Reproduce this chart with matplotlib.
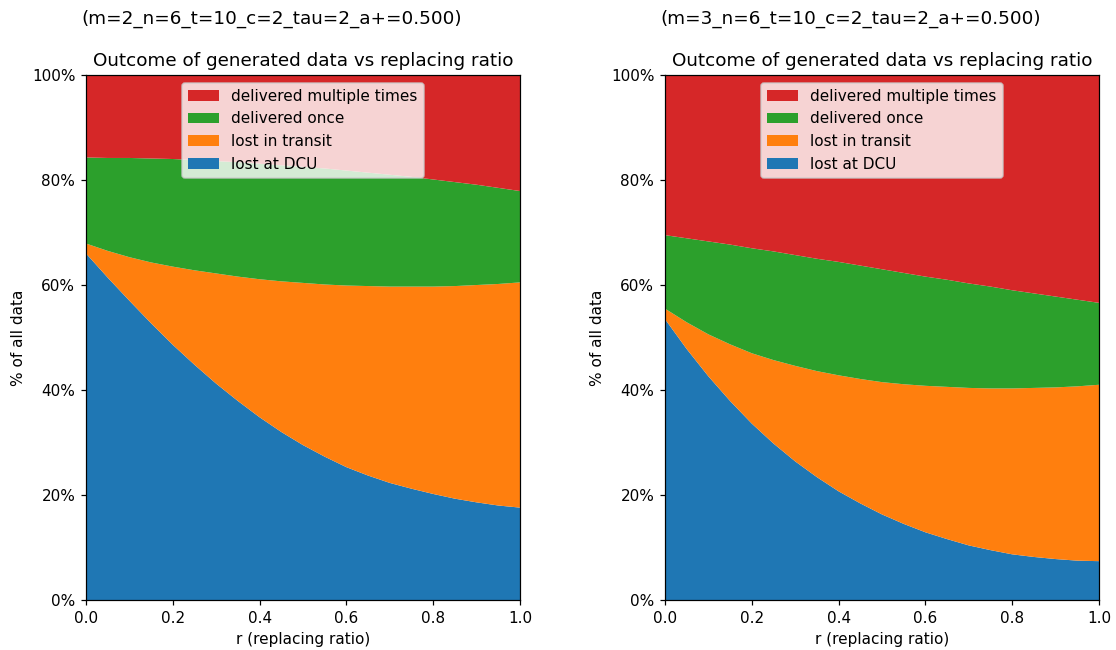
import matplotlib
matplotlib.use("Agg")
import matplotlib.pyplot as plt
from matplotlib.ticker import PercentFormatter

r = [0.0, 0.05, 0.1, 0.15, 0.2, 0.25, 0.3, 0.35, 0.4, 0.45, 0.5,
     0.55, 0.6, 0.65, 0.7, 0.75, 0.8, 0.85, 0.9, 0.95, 1.0]
labels = ["lost at DCU", "lost in transit", "delivered once", "delivered multiple times"]

# m=2 run (% of all data)
m2_lost_dcu = [66.0, 61.4, 57.0, 52.7, 48.6, 44.8, 41.2, 37.9, 34.8, 32.0, 29.5,
               27.3, 25.3, 23.7, 22.3, 21.2, 20.2, 19.3, 18.6, 18.0, 17.6]
m2_lost_transit = [1.9, 5.1, 8.3, 11.6, 14.9, 18.0, 21.0, 23.7, 26.3, 28.7, 30.9,
                   32.8, 34.6, 36.1, 37.4, 38.5, 39.5, 40.5, 41.4, 42.2, 42.9]
m2_once = [16.4, 17.7, 18.9, 19.8, 20.5, 21.0, 21.4, 21.8, 22.0, 22.1, 22.1,
           22.1, 21.9, 21.6, 21.3, 20.9, 20.4, 19.8, 19.1, 18.3, 17.4]
m2_multiple = [15.7, 15.8, 15.8, 15.9, 16.0, 16.2, 16.4, 16.6, 16.9, 17.2, 17.5,
               17.8, 18.2, 18.6, 19.0, 19.4, 19.9, 20.4, 20.9, 21.5, 22.1]

# m=3 run
m3_lost_dcu = [53.5, 47.8, 42.6, 37.9, 33.6, 29.8, 26.4, 23.4, 20.7, 18.4, 16.3,
               14.5, 12.9, 11.6, 10.4, 9.5, 8.7, 8.2, 7.8, 7.5, 7.4]
m3_lost_transit = [2.0, 5.1, 8.0, 10.8, 13.4, 15.9, 18.2, 20.2, 22.1, 23.7, 25.2,
                   26.6, 27.9, 29.0, 30.0, 30.8, 31.6, 32.2, 32.7, 33.2, 33.6]
m3_once = [14.0, 16.0, 17.7, 19.0, 20.0, 20.7, 21.1, 21.4, 21.6, 21.6, 21.5,
           21.2, 20.8, 20.4, 19.9, 19.4, 18.7, 18.0, 17.3, 16.5, 15.6]
m3_multiple = [30.5, 31.1, 31.7, 32.3, 33.0, 33.6, 34.3, 35.0, 35.6, 36.3, 37.0,
               37.7, 38.4, 39.0, 39.7, 40.3, 41.0, 41.6, 42.2, 42.8, 43.4]

runs = [
    ("(m=2_n=6_t=10_c=2_tau=2_a+=0.500)", [m2_lost_dcu, m2_lost_transit, m2_once, m2_multiple]),
    ("(m=3_n=6_t=10_c=2_tau=2_a+=0.500)", [m3_lost_dcu, m3_lost_transit, m3_once, m3_multiple]),
]

fig, axes = plt.subplots(1, 2, figsize=(1116 / 110, 650 / 110), dpi=110)
fig.subplots_adjust(left=0.0771, right=0.9848, top=0.8846, bottom=0.0769, wspace=0.334)

for ax, (params, series) in zip(axes, runs):
    ax.stackplot(r, *series, labels=labels)
    ax.set_xlim(0, 1)
    ax.set_ylim(0, 100)
    ax.yaxis.set_major_formatter(PercentFormatter(100, decimals=0))
    ax.set_xlabel("r (replacing ratio)")
    ax.set_ylabel("% of all data")
    ax.set_title("Outcome of generated data vs replacing ratio")
    ax.text(-0.01, 1.09, params, transform=ax.transAxes, fontsize=12, ha="left", va="bottom")
    handles, labs = ax.get_legend_handles_labels()
    ax.legend(handles[::-1], labs[::-1], loc="upper center")

plt.savefig("out.png")
